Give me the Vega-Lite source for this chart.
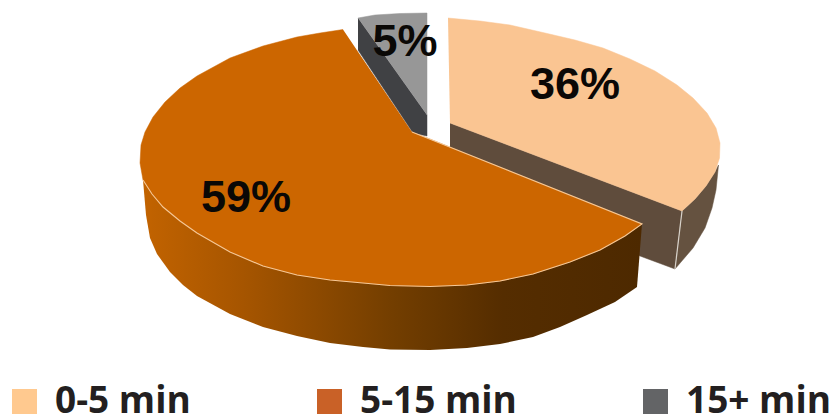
{
"$schema":"https://vega.github.io/schema/vega-lite/v6.json",
"width":830,"height":415,"padding":0,"autosize":"none","background":"white",
"config":{"view":{"stroke":null}},
"datasets":{
"outline":[
{"part":"peachInner","i":0,"across":450,"down":123},{"part":"peachInner","i":1,"across":682,"down":211},{"part":"peachInner","i":2,"across":675,"down":269},{"part":"peachInner","i":3,"across":640,"down":256},{"part":"peachInner","i":4,"across":450,"down":150},
{"part":"peachOuter","i":0,"across":682,"down":211},{"part":"peachOuter","i":1,"across":695,"down":199},{"part":"peachOuter","i":2,"across":706,"down":186},{"part":"peachOuter","i":3,"across":715,"down":172},{"part":"peachOuter","i":4,"across":718.5,"down":165},{"part":"peachOuter","i":5,"across":716,"down":190},{"part":"peachOuter","i":6,"across":712,"down":208},{"part":"peachOuter","i":7,"across":705,"down":228},{"part":"peachOuter","i":8,"across":693,"down":248},{"part":"peachOuter","i":9,"across":675,"down":269},
{"part":"peachSeam","i":0,"across":682,"down":211},{"part":"peachSeam","i":1,"across":675,"down":269},
{"part":"peachTop","i":0,"across":450,"down":123},{"part":"peachTop","i":1,"across":682,"down":211},{"part":"peachTop","i":2,"across":695,"down":199},{"part":"peachTop","i":3,"across":706,"down":186},{"part":"peachTop","i":4,"across":715,"down":172},{"part":"peachTop","i":5,"across":719.5,"down":158},{"part":"peachTop","i":6,"across":720,"down":143},{"part":"peachTop","i":7,"across":716,"down":128},{"part":"peachTop","i":8,"across":707,"down":113},{"part":"peachTop","i":9,"across":693,"down":98},{"part":"peachTop","i":10,"across":677,"down":85},{"part":"peachTop","i":11,"across":655,"down":71},{"part":"peachTop","i":12,"across":630,"down":59},{"part":"peachTop","i":13,"across":603,"down":48},{"part":"peachTop","i":14,"across":575,"down":40},{"part":"peachTop","i":15,"across":545,"down":33},{"part":"peachTop","i":16,"across":510,"down":25},{"part":"peachTop","i":17,"across":480,"down":21},{"part":"peachTop","i":18,"across":448,"down":18},
{"part":"grayInner","i":0,"across":358,"down":18},{"part":"grayInner","i":1,"across":427,"down":115},{"part":"grayInner","i":2,"across":427,"down":136},{"part":"grayInner","i":3,"across":413,"down":133},{"part":"grayInner","i":4,"across":358,"down":50},
{"part":"grayTop","i":0,"across":358,"down":18},{"part":"grayTop","i":1,"across":375,"down":15},{"part":"grayTop","i":2,"across":400,"down":13.5},{"part":"grayTop","i":3,"across":427,"down":13},{"part":"grayTop","i":4,"across":427,"down":115},
{"part":"orangeSide","i":0,"across":642,"down":224},{"part":"orangeSide","i":1,"across":637,"down":287},{"part":"orangeSide","i":2,"across":615,"down":302},{"part":"orangeSide","i":3,"across":587,"down":315},{"part":"orangeSide","i":4,"across":560,"down":327},{"part":"orangeSide","i":5,"across":533,"down":337},{"part":"orangeSide","i":6,"across":500,"down":344},{"part":"orangeSide","i":7,"across":467,"down":348},{"part":"orangeSide","i":8,"across":430,"down":350},{"part":"orangeSide","i":9,"across":390,"down":349.5},{"part":"orangeSide","i":10,"across":363,"down":347},{"part":"orangeSide","i":11,"across":330,"down":343},{"part":"orangeSide","i":12,"across":297,"down":336},{"part":"orangeSide","i":13,"across":263,"down":327},{"part":"orangeSide","i":14,"across":230,"down":314},{"part":"orangeSide","i":15,"across":197,"down":296},{"part":"orangeSide","i":16,"across":183,"down":285},{"part":"orangeSide","i":17,"across":170,"down":272},{"part":"orangeSide","i":18,"across":157,"down":254},{"part":"orangeSide","i":19,"across":150,"down":238},{"part":"orangeSide","i":20,"across":146,"down":215},{"part":"orangeSide","i":21,"across":143,"down":180},
{"part":"orangeTop","i":0,"across":412,"down":132},{"part":"orangeTop","i":1,"across":642,"down":224},{"part":"orangeTop","i":2,"across":625,"down":236},{"part":"orangeTop","i":3,"across":600,"down":250},{"part":"orangeTop","i":4,"across":570,"down":262},{"part":"orangeTop","i":5,"across":533,"down":274},{"part":"orangeTop","i":6,"across":500,"down":281},{"part":"orangeTop","i":7,"across":467,"down":285},{"part":"orangeTop","i":8,"across":430,"down":286.5},{"part":"orangeTop","i":9,"across":390,"down":285.5},{"part":"orangeTop","i":10,"across":363,"down":283},{"part":"orangeTop","i":11,"across":330,"down":280},{"part":"orangeTop","i":12,"across":297,"down":275},{"part":"orangeTop","i":13,"across":263,"down":266},{"part":"orangeTop","i":14,"across":230,"down":252},{"part":"orangeTop","i":15,"across":197,"down":233},{"part":"orangeTop","i":16,"across":180,"down":221},{"part":"orangeTop","i":17,"across":163,"down":207},{"part":"orangeTop","i":18,"across":152,"down":194},{"part":"orangeTop","i":19,"across":143,"down":180},{"part":"orangeTop","i":20,"across":140,"down":163},{"part":"orangeTop","i":21,"across":141,"down":145},{"part":"orangeTop","i":22,"across":145,"down":132},{"part":"orangeTop","i":23,"across":153,"down":117},{"part":"orangeTop","i":24,"across":165,"down":102},{"part":"orangeTop","i":25,"across":180,"down":88},{"part":"orangeTop","i":26,"across":197,"down":76},{"part":"orangeTop","i":27,"across":230,"down":58},{"part":"orangeTop","i":28,"across":263,"down":46},{"part":"orangeTop","i":29,"across":297,"down":37},{"part":"orangeTop","i":30,"across":320,"down":33},{"part":"orangeTop","i":31,"across":343,"down":29.5}
],
"shares":[
{"band":"0-5 min","share":0.36,"across":575,"down":85},
{"band":"5-15 min","share":0.59,"across":246,"down":198},
{"band":"15+ min","share":0.05,"across":405,"down":42}
]
},
"layer":[
{
"data":{"name":"outline"},
"encoding":{
"x":{"field":"across","type":"quantitative","scale":{"domain":[0,830],"nice":false,"zero":false},"axis":null},
"y":{"field":"down","type":"quantitative","scale":{"domain":[415,0],"nice":false,"zero":false},"axis":null},
"order":{"field":"i","type":"ordinal"}
},
"layer":[
{"transform":[{"filter":"datum.part=='peachInner'"}],"mark":{"type":"line","fill":"#5F4C3C","stroke":"#5F4C3C","strokeWidth":0.5}},
{"transform":[{"filter":"datum.part=='peachOuter'"}],"mark":{"type":"line","fill":"#655240","stroke":"#655240","strokeWidth":0.5}},
{"transform":[{"filter":"datum.part=='peachSeam'"}],"mark":{"type":"line","stroke":"#D8D2CA","strokeWidth":1.2}},
{"transform":[{"filter":"datum.part=='peachTop'"}],"mark":{"type":"line","fill":"#FAC592","stroke":"#FAC592","strokeWidth":0.5}},
{"transform":[{"filter":"datum.part=='grayInner'"}],"mark":{"type":"line","fill":"#404144","stroke":"#404144","strokeWidth":0.5}},
{"transform":[{"filter":"datum.part=='grayTop'"}],"mark":{"type":"line","fill":"#979797","stroke":"#979797","strokeWidth":0.5}},
{"transform":[{"filter":"datum.part=='orangeSide'"}],"mark":{"type":"line","stroke":null,"fill":{"gradient":"linear","x1":0,"x2":1,"y1":0,"y2":0,"stops":[{"offset":0,"color":"#C26300"},{"offset":0.2,"color":"#A65500"},{"offset":0.5,"color":"#733E00"},{"offset":0.72,"color":"#552D00"},{"offset":1,"color":"#4D2900"}]}}},
{"transform":[{"filter":"datum.part=='orangeTop'"}],"mark":{"type":"line","fill":"#CC6600","stroke":"#CC6600","strokeWidth":0.5}},
{"transform":[{"filter":"datum.part=='orangeTop' && datum.i<=19"}],"mark":{"type":"line","stroke":"#F5C897","strokeWidth":1.1}}
]
},
{
"data":{"name":"shares"},
"mark":{"type":"point","shape":"square","filled":true,"opacity":0},
"encoding":{
"x":{"field":"across","type":"quantitative"},
"y":{"field":"down","type":"quantitative"},
"color":{"field":"band","type":"nominal","sort":["0-5 min","5-15 min","15+ min"],
"scale":{"domain":["0-5 min","5-15 min","15+ min"],"range":["#FFC98F","#C96127","#636466"]},
"legend":{"title":null,"orient":"none","legendX":6,"legendY":383,"direction":"horizontal","columns":3,"gridAlign":"none","columnPadding":120,"symbolType":"square","symbolSize":625,"symbolOpacity":1,"symbolStrokeWidth":0,"labelFont":"Open Sans","labelFontWeight":700,"labelFontSize":37,"labelColor":"#231F20","labelOffset":12,"labelLimit":300}}
}
},
{
"data":{"name":"shares"},
"mark":{"type":"text","font":"Liberation Sans","fontWeight":"bold","fontSize":45,"color":"#0A0806","align":"center","baseline":"middle"},
"encoding":{
"x":{"field":"across","type":"quantitative"},
"y":{"field":"down","type":"quantitative"},
"text":{"field":"share","type":"quantitative","format":".0%"}
}
}
]
}
